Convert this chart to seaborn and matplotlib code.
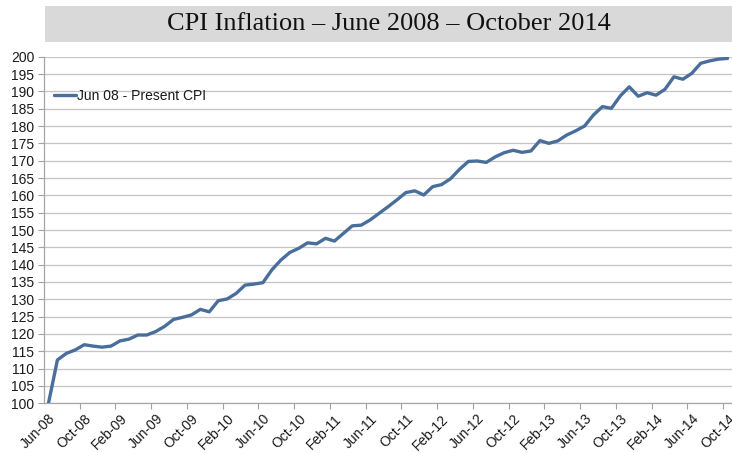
import matplotlib
matplotlib.use("Agg")
import matplotlib.pyplot as plt
import matplotlib.patches as mpatches
from matplotlib.ticker import FixedLocator, MultipleLocator
import seaborn as sns
import pandas as pd
import numpy as np

# ---- data (monthly CPI index, Jun-08 = 100) ----
months = pd.date_range("2008-06-01", "2014-10-01", freq="MS")
month_labels = [d.strftime("%b-%y") for d in months]
cpi = [100.0, 112.5, 114.4, 115.4, 116.9, 116.5, 116.2, 116.5, 118.0, 118.5,
       119.7, 119.7, 120.7, 122.2, 124.2, 124.8, 125.5, 127.1, 126.4, 129.6,
       130.1, 131.7, 134.1, 134.4, 134.8, 138.5, 141.3, 143.5, 144.7, 146.3,
       146.0, 147.6, 146.8, 149.0, 151.2, 151.4, 152.9, 154.8, 156.7, 158.7,
       160.8, 161.3, 160.1, 162.5, 163.1, 164.8, 167.5, 169.8, 169.9, 169.5,
       171.1, 172.3, 173.0, 172.4, 172.8, 175.8, 175.0, 175.7, 177.4, 178.6,
       180.0, 183.2, 185.6, 185.1, 188.7, 191.3, 188.6, 189.6, 188.9, 190.6,
       194.2, 193.5, 195.2, 198.1, 198.8, 199.3, 199.5]
series_name = "Jun 08 - Present CPI"
title_text = "CPI Inflation \u2013 June 2008 \u2013 October 2014"

df = pd.DataFrame({"idx": np.arange(len(cpi)), "CPI": cpi, "series": series_name})

sns.set_style("white")
plt.rcParams["font.family"] = ["Liberation Sans", "DejaVu Sans"]

W, H = 732, 453
fig = plt.figure(figsize=(W / 100, H / 100), dpi=100)
ax = fig.add_axes([44 / W, 1 - 403.3 / H, (W - 44) / W, (403.3 - 56.7) / H])

line_color = "#4a6e9b"
sns.lineplot(data=df, x="idx", y="CPI", hue="series", palette=[line_color],
             linewidth=2.4, ax=ax, clip_on=True)

ax.set_xlim(-0.5, 76.5)
ax.set_ylim(100, 200)
ax.set_xlabel("")
ax.set_ylabel("")

# y axis
ax.yaxis.set_major_locator(MultipleLocator(5))
ax.grid(axis="y", color="#c4c4c4", linewidth=0.9)
ax.grid(axis="x", visible=False)
ax.set_axisbelow(True)
ax.tick_params(axis="y", which="major", length=4, width=0.8, color="#a0a0a0",
               labelsize=10, labelcolor="#1a1a1a", pad=3, left=True)

# x axis: labels every 4 months, tick marks between categories
label_pos = list(range(0, len(cpi), 4))
ax.xaxis.set_major_locator(FixedLocator(label_pos))
ax.set_xticklabels([month_labels[i] for i in label_pos], rotation=45,
                   ha="right", rotation_mode="anchor")
ax.xaxis.set_minor_locator(FixedLocator([p - 0.5 for p in label_pos[1:]]))
ax.tick_params(axis="x", which="major", length=0, labelsize=10,
               labelcolor="#1a1a1a", pad=6)
ax.tick_params(axis="x", which="minor", length=4, width=0.8, color="#a0a0a0",
               bottom=True)

for s in ["top", "right"]:
    ax.spines[s].set_visible(False)
for s in ["left", "bottom"]:
    ax.spines[s].set_color("#a6a6a6")
    ax.spines[s].set_linewidth(0.9)

leg = ax.legend(loc="upper left", bbox_to_anchor=(0.0, 0.935), frameon=False,
                fontsize=10, handlelength=1.6, handletextpad=0.1,
                borderaxespad=0.3)
for t in leg.get_texts():
    t.set_color("#1a1a1a")

# title banner
fig.patches.append(mpatches.Rectangle((45 / W, 1 - 42 / H), (W - 45) / W, 36 / H,
                                      transform=fig.transFigure,
                                      facecolor="#d9d9d9", edgecolor="none",
                                      zorder=0))
fig.text((45 + W) / 2 / W, 1 - 24 / H, title_text, ha="center", va="center",
         fontsize=19, family=["Liberation Serif", "DejaVu Serif"], color="#111111")

fig.savefig("out.png", dpi=100)
